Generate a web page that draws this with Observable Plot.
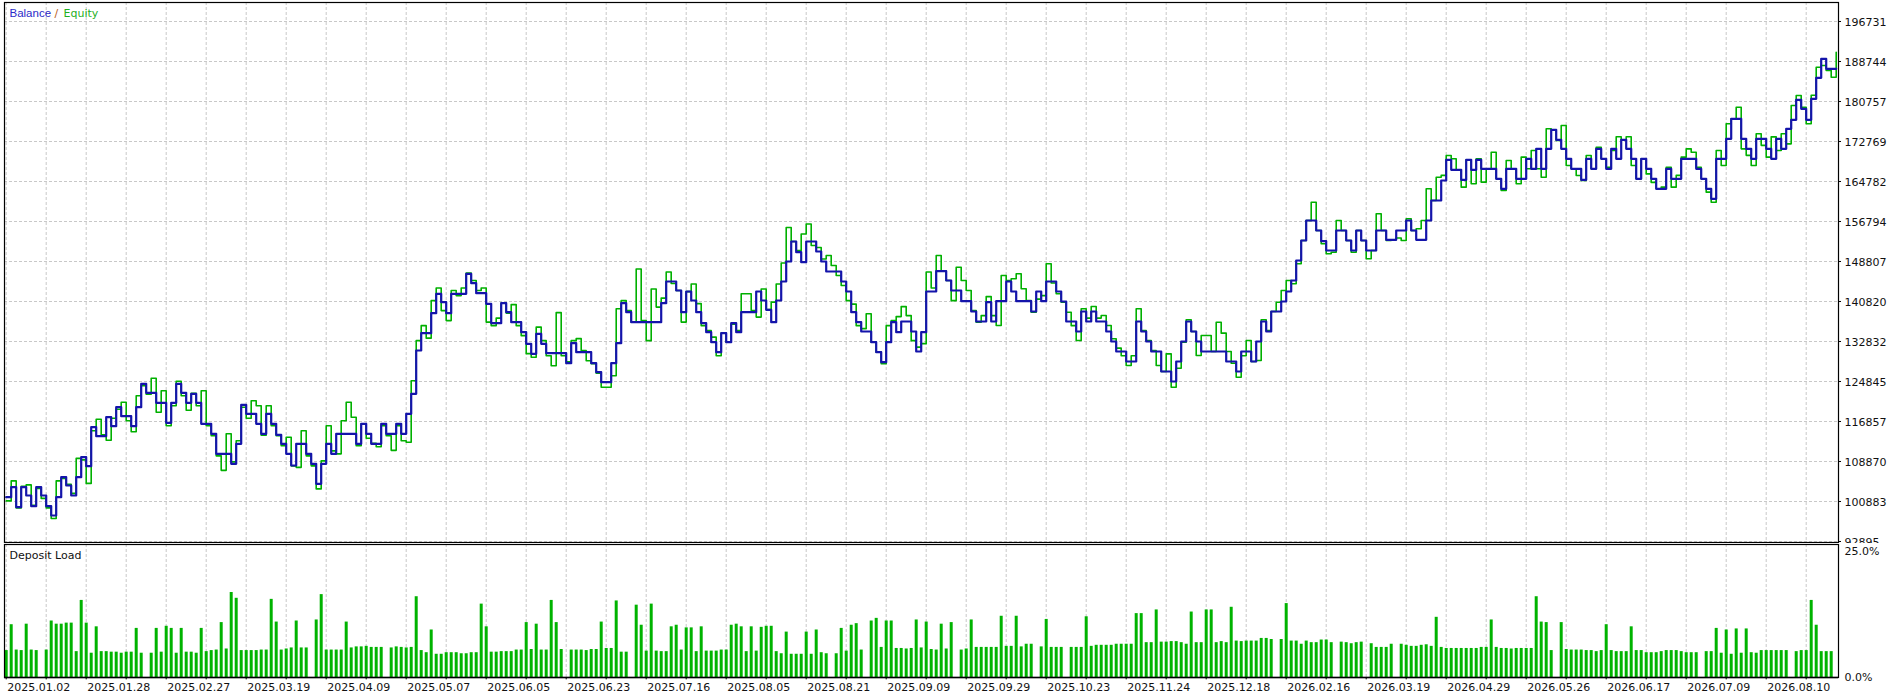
<!DOCTYPE html>
<html>
<head>
<meta charset="utf-8">
<script src="https://cdn.jsdelivr.net/npm/d3@7"></script>
<script src="https://cdn.jsdelivr.net/npm/@observablehq/plot@0.6"></script>
<style>
  html, body { margin: 0; padding: 0; background: #fff; overflow: hidden; }
  #main svg, #load svg { display: block; overflow: hidden; }
</style>
</head>
<body>
<div id="main"></div>
<div id="load"></div>
<script>
// Balance after each deal (deal index order)
const balance = [
101741,103738,99744,103738,102080,99944,103738,102080,99944,98087,
101741,105734,104077,102080,105734,109728,107931,115718,113921,113921,
117715,115918,119712,117915,117915,115918,119712,124385,122587,122587,
120591,120591,116597,120591,124385,122587,120591,122388,120591,116397,
116397,114401,110407,110407,110407,108410,112404,120191,118394,118394,
116397,114401,118394,116397,114201,112404,110407,108071,112404,112404,
110407,108410,104417,108410,112404,110407,114401,114401,114401,114401,
112404,116397,114401,112404,112404,116397,114401,114401,116397,114401,
118394,122388,131034,134488,134488,138482,142356,140679,138482,142356,
142356,142356,146349,144472,142476,142476,140359,136485,136485,140479,
138682,136685,136685,134688,132372,130375,134369,132372,130495,130495,
130495,130495,128498,132492,130694,130694,130694,128498,126701,124704,
124704,128498,132492,140479,138682,136685,136685,136685,136685,136685,
136685,140479,144812,144812,143015,138682,142815,141018,138682,136485,
134688,132691,130694,134488,132691,136485,134688,138682,138682,138682,
142815,141018,139161,136685,141018,144812,148805,152799,150662,148666,
152799,152799,150802,148805,146809,146809,146809,144812,142815,138682,
136685,134828,134828,132691,130694,128698,132691,136685,134688,136825,
136825,134828,130834,134688,142815,142815,146869,146869,145011,143015,
143015,140878,140878,138821,136825,136825,140679,136825,140878,140878,
144812,142815,140878,140878,140878,138821,142815,140878,144812,144812,
142815,140818,136825,136825,134828,138821,136825,138821,136825,136825,
134828,132831,130834,130834,128837,128837,136825,134828,132831,130834,
130834,126841,126841,124844,128837,132831,136825,134828,132831,130834,
130834,130834,130834,130834,128837,128837,126841,130834,130834,128837,
132831,136825,134828,138821,138821,140818,142815,145011,149005,152999,
156992,156992,154995,152859,151002,151002,154995,154995,152999,151002,
154995,152999,151002,151002,154995,154995,153138,153138,154995,154995,
156992,154995,153138,153138,156992,160986,160986,164979,169113,167116,
167116,165119,169113,167116,169113,167316,167316,167316,165319,163322,
167316,167316,165319,165319,169313,167316,171309,167316,171309,175103,
173106,171309,169313,167316,167316,165119,169313,167316,171309,169313,
167316,171309,169313,173106,171309,169313,165319,169313,167316,165319,
163322,163322,167316,165319,165319,169313,169313,169313,167316,165319,
163322,161326,169313,169313,173306,177300,177300,173306,171309,169313,
173306,173306,171309,169313,173306,171309,175303,177100,181094,179297,
177100,181293,185487,189281,187284,187284,187284
];

// Equity at the same deal positions
const equity = [
101000,105000,99600,103900,104200,100100,103500,101500,99600,97500,
105000,105500,104300,102500,109500,109200,104500,115000,117300,114200,
113100,117500,119300,120700,117000,114800,122000,124000,122300,125500,
118700,123000,116000,120000,124900,122000,119100,122500,120000,123000,
116000,114000,110000,107100,114400,108800,113000,119700,117500,121000,
120000,114100,120000,116000,114000,112000,113700,108000,107700,115000,
110000,108000,103400,109000,116000,111000,110400,117000,120700,117700,
112000,116400,113500,112500,111800,116000,114000,111100,116000,113000,
112700,125000,133000,136000,133500,141000,143500,139000,137000,143000,
142000,143500,146500,145000,143000,143500,136700,136000,137500,140500,
138500,140200,136000,134000,130400,129700,135700,133000,130000,128000,
138600,130000,128800,133000,133400,131000,129000,128400,126500,123700,
123706,126000,139356,141000,139000,136700,147300,137000,133000,143300,
139700,141500,146700,144400,143000,136700,142800,144300,140400,136000,
135000,133700,130000,134500,132700,136300,135000,142356,142356,139000,
137700,143300,139200,140700,144300,148500,155600,152800,151000,154300,
156300,152000,151600,149300,150000,148000,146000,144000,141000,140300,
136000,135400,138362,132700,130700,128400,136000,137000,137800,139800,
138000,133000,131700,132400,146700,143500,150000,146900,145000,141000,
147667,145000,143000,139000,136685,138000,141800,138000,136027,146011,
145011,145360,146350,143350,141000,138680,141300,142000,148348,144500,
142356,140680,138680,136000,133031,139356,137500,139815,137500,138020,
136027,133370,131500,130000,128040,130000,139356,135000,133031,131000,
128040,126841,130370,123706,127500,132690,137160,134828,130036,134030,
134030,130834,136685,134500,130834,128500,125702,130000,133031,128837,
129040,137160,135030,138821,140680,143015,145011,144350,148350,153000,
157000,160647,154995,152340,150340,150660,156992,154995,153000,150660,
154995,153000,149340,151002,158329,154995,153000,153138,153500,153000,
157330,154995,155340,156990,163322,160986,165630,166000,169970,169310,
167116,163648,169113,164320,169310,164650,167316,170630,165319,162980,
168970,167310,164320,169640,167316,170970,167316,165635,175300,175103,
172960,175962,167970,167316,165970,164980,169970,167316,171630,169313,
167640,170970,173706,173106,173706,167970,165319,169310,166300,164600,
163320,163648,167640,163648,166000,169640,171300,170630,167640,165319,
162650,160647,170970,167970,176300,177300,179616,171300,170000,167970,
174300,172000,169640,173700,170970,174300,172300,179950,181954,179616,
176300,182000,187605,187940,186940,185608,190600
];

// Deposit load (%) at the same deal positions
const depositLoad = [
5.1,10.0,5.2,5.1,10.1,5.2,5.1,0,5.2,10.7,
10.1,10.1,10.3,10.3,4.9,14.6,10.3,4.6,9.6,4.9,
4.9,4.8,4.8,4.6,4.8,4.8,9.3,4.6,0,4.6,
9.3,4.8,9.7,9.3,4.6,9.3,4.8,4.8,4.6,9.3,
4.9,5.1,5.2,10.4,5.4,16.1,15.0,5.1,5.1,5.1,
5.1,5.2,5.2,14.8,10.5,5.2,5.4,5.6,10.7,5.6,
5.6,0,10.9,15.7,5.2,5.2,5.2,5.2,10.5,5.6,
5.8,5.8,5.9,5.7,5.7,5.7,0,5.6,5.8,5.7,
5.6,5.7,15.3,5.1,4.7,9.0,4.4,4.4,4.7,4.7,
4.7,4.5,4.5,4.7,4.7,13.9,9.6,4.8,4.8,4.9,
4.9,4.9,5.2,5.2,10.4,5.3,10.1,5.2,5.2,14.6,
10.4,5.3,0,5.2,5.2,5.2,5.1,5.3,5.3,10.5,
5.5,5.5,14.5,4.8,4.8,0,13.7,9.9,5.0,13.9,
5.0,4.9,4.9,9.6,9.9,5.2,9.4,9.4,4.9,9.6,
5.0,5.0,5.0,5.2,5.2,9.9,10.1,9.6,4.9,9.6,
5.0,9.5,9.7,9.7,4.9,4.5,8.6,4.4,4.4,4.4,
8.6,4.4,9.0,4.7,4.5,0,4.5,9.3,5.0,9.9,
10.2,5.2,0,10.7,11.2,5.7,10.7,10.7,5.5,5.5,
5.4,5.5,10.9,5.6,10.5,5.3,5.2,10.1,5.4,10.4,
0,5.2,5.4,10.9,5.7,5.7,5.7,5.7,5.7,11.6,
5.9,5.9,11.6,5.8,6.3,6.3,0,5.8,11.0,5.7,
5.7,5.7,0,5.7,5.7,5.7,11.5,5.9,6.1,6.1,
6.1,6.1,6.3,6.3,6.3,6.3,12.1,12.1,6.6,6.6,
12.8,6.7,6.7,6.8,6.8,6.6,6.3,12.4,6.6,6.6,
12.8,12.8,6.6,6.8,6.6,13.3,6.9,6.8,6.9,6.9,
6.9,7.4,7.4,7.2,0,7.2,14.0,6.9,6.9,6.3,
6.9,6.6,6.6,7.1,7.1,6.6,0,6.7,6.6,6.4,
6.6,6.7,0,6.4,5.7,5.7,5.7,6.3,0,6.3,
6.1,5.9,5.9,6.1,6.2,5.9,11.4,5.7,5.5,5.5,
5.5,5.5,5.5,5.5,5.5,5.7,5.7,10.9,5.7,5.5,
5.5,5.4,5.5,5.5,5.5,5.5,15.3,10.5,10.4,5.1,
0,10.4,5.3,5.2,5.2,5.2,5.1,5.1,4.9,5.1,
10.0,5.1,4.9,4.9,4.9,9.6,5.1,5.1,4.7,4.7,
4.7,4.9,5.1,5.1,5.1,4.9,4.7,4.7,4.7,0,
4.9,4.9,9.3,4.6,9.0,4.4,9.2,4.6,9.2,4.7,
4.6,5.1,5.1,5.1,5.1,5.1,5.1,0,4.9,5.1,
5.1,14.6,9.9,4.9,4.9,4.9,0
];

// Right axis ticks of the balance panel
const yTickValues = [92895,100883,108870,116857,124845,132832,140820,148807,156794,164782,172769,180757,188744,196731];
const yTickLabels = ["92895","100883","108870","116857","124845","132832","140820","148807","156794","164782","172769","180757","188744","196731"];

// Date labels along the bottom (deal index of each label)
const dateLabels = ["2025.01.02","2025.01.28","2025.02.27","2025.03.19","2025.04.09","2025.05.07","2025.06.05","2025.06.23","2025.07.16","2025.08.05","2025.08.21","2025.09.09","2025.09.29","2025.10.23","2025.11.24","2025.12.18","2026.02.16","2026.03.19","2026.04.29","2026.05.26","2026.06.17","2026.07.09","2026.08.10"];
const dateLabelIdx = dateLabels.map((d, i) => i * 16);
const gridIdx = d3.range(0, 361, 8);

const loadTickValues = [0, 25];
const loadTickLabels = ["0.0%", "25.0%"];

const xDomain = [-0.34, 366.46];
const xMax = xDomain[1];
const font = {fontFamily: "DejaVu Sans, sans-serif", fontSize: "11px", color: "#111", background: "#fff", overflow: "hidden"};
const gridStyle = {stroke: "#c8c8c8", strokeDasharray: "3,2", strokeWidth: 1};

const main = Plot.plot({
  width: 1892, height: 543,
  marginLeft: 4, marginRight: 54, marginTop: 2, marginBottom: 1,
  style: font,
  x: {domain: xDomain, axis: null},
  y: {domain: [92695, 200523], axis: null},
  marks: [
    Plot.ruleY(yTickValues, gridStyle),
    Plot.ruleX(gridIdx, gridStyle),
    Plot.line(equity, {x: (d, i) => i, y: d => d, curve: "step-after", stroke: "#00b000", strokeWidth: 1.6}),
    Plot.line(balance, {x: (d, i) => i, y: d => d, curve: "step-after", stroke: "#1414aa", strokeWidth: 2.2}),
    Plot.frame({stroke: "#000", strokeWidth: 1.2}),
    Plot.ruleY(yTickValues, {x1: xMax, x2: xMax + 0.6, stroke: "#000"}),
    Plot.text(yTickValues, {y: d => d, text: (d, i) => yTickLabels[i], frameAnchor: "right", dx: 6, dy: 1, textAnchor: "start", fill: "#111"}),
    Plot.text(["Balance"], {frameAnchor: "top-left", dx: 5, dy: 11, textAnchor: "start", lineAnchor: "middle", fill: "#2a2ac8", fontFamily: "Liberation Sans, Arial, sans-serif", fontSize: 11.5}),
    Plot.text(["/"], {frameAnchor: "top-left", dx: 50, dy: 11, textAnchor: "start", lineAnchor: "middle", fill: "#b8601c"}),
    Plot.text(["Equity"], {frameAnchor: "top-left", dx: 59, dy: 11, textAnchor: "start", lineAnchor: "middle", fill: "#1fb01f"})
  ]
});
document.getElementById("main").appendChild(main);

const load = Plot.plot({
  width: 1892, height: 151,
  marginLeft: 4, marginRight: 54, marginTop: 1, marginBottom: 17,
  style: font,
  x: {domain: xDomain, axis: null},
  y: {domain: [0, 25.19], axis: null},
  marks: [
    Plot.ruleX(gridIdx, gridStyle),
    Plot.ruleX(depositLoad, {filter: d => d > 0, x: (d, i) => i, y1: 0, y2: d => d, stroke: "#00b300", strokeWidth: 3}),
    Plot.frame({stroke: "#000", strokeWidth: 1.2}),
    Plot.ruleY([0], {stroke: "#000", strokeWidth: 1.6}),
    Plot.ruleX(gridIdx, {y1: 0, y2: -0.45, stroke: "#000"}),
    Plot.text(dateLabels, {x: (d, i) => dateLabelIdx[i], frameAnchor: "bottom", dy: 9.5, dx: 1, textAnchor: "start", lineAnchor: "middle", fill: "#111"}),
    Plot.text([loadTickValues[1]], {y: d => d, text: () => loadTickLabels[1], frameAnchor: "right", dx: 6, dy: 2, textAnchor: "start", lineAnchor: "top", fill: "#111"}),
    Plot.text([loadTickValues[0]], {y: d => d, text: () => loadTickLabels[0], frameAnchor: "right", dx: 6, textAnchor: "start", lineAnchor: "middle", fill: "#111"}),
    Plot.text(["Deposit Load"], {frameAnchor: "top-left", dx: 5, dy: 11, textAnchor: "start", lineAnchor: "middle", fill: "#111"})
  ]
});
document.getElementById("load").appendChild(load);
</script>
</body>
</html>
